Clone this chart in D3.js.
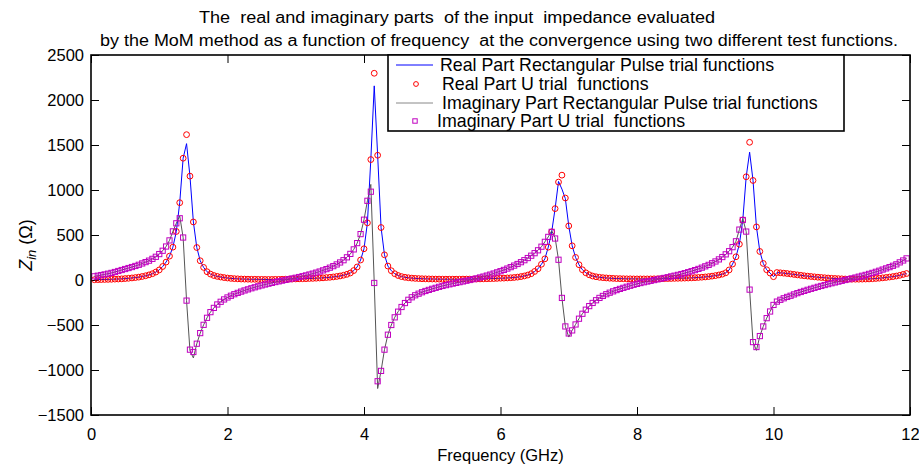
<!DOCTYPE html>
<html><head><meta charset="utf-8">
<script src="https://cdn.jsdelivr.net/npm/d3@7"></script>
<style>
body{margin:0;background:#fff}
text{font-family:"Liberation Sans",Arial,Helvetica,sans-serif;fill:#000;white-space:pre}
</style>
</head><body>
<svg id="chart" width="919" height="468"></svg>
<script>
// ---------- data ----------
const freqGHz = [
0.05,0.1,0.15,0.2,0.25,0.3,0.35,0.4,0.45,0.5,0.55,0.6,0.65,0.7,0.75,0.8,0.85,0.9,0.95,1,
1.05,1.1,1.15,1.2,1.25,1.3,1.35,1.4,1.45,1.5,1.55,1.6,1.65,1.7,1.75,1.8,1.85,1.9,1.95,2,
2.05,2.1,2.15,2.2,2.25,2.3,2.35,2.4,2.45,2.5,2.55,2.6,2.65,2.7,2.75,2.8,2.85,2.9,2.95,3,
3.05,3.1,3.15,3.2,3.25,3.3,3.35,3.4,3.45,3.5,3.55,3.6,3.65,3.7,3.75,3.8,3.85,3.9,3.95,4,
4.05,4.1,4.15,4.2,4.25,4.3,4.35,4.4,4.45,4.5,4.55,4.6,4.65,4.7,4.75,4.8,4.85,4.9,4.95,5,
5.05,5.1,5.15,5.2,5.25,5.3,5.35,5.4,5.45,5.5,5.55,5.6,5.65,5.7,5.75,5.8,5.85,5.9,5.95,6,
6.05,6.1,6.15,6.2,6.25,6.3,6.35,6.4,6.45,6.5,6.55,6.6,6.65,6.7,6.75,6.8,6.85,6.9,6.95,7,
7.05,7.1,7.15,7.2,7.25,7.3,7.35,7.4,7.45,7.5,7.55,7.6,7.65,7.7,7.75,7.8,7.85,7.9,7.95,8,
8.05,8.1,8.15,8.2,8.25,8.3,8.35,8.4,8.45,8.5,8.55,8.6,8.65,8.7,8.75,8.8,8.85,8.9,8.95,9,
9.05,9.1,9.15,9.2,9.25,9.3,9.35,9.4,9.45,9.5,9.55,9.6,9.65,9.7,9.75,9.8,9.85,9.9,9.95,10,
10.05,10.1,10.15,10.2,10.25,10.3,10.35,10.4,10.45,10.5,10.55,10.6,10.65,10.7,10.75,10.8,10.85,10.9,10.95,11,
11.05,11.1,11.15,11.2,11.25,11.3,11.35,11.4,11.45,11.5,11.55,11.6,11.65,11.7,11.75,11.8,11.85,11.9,11.95
];

// Real part, rectangular pulse trial functions (blue line)
const realRect = [
3,4,5,6,7,8,10,11,13,16,19,23,27,32,39,47,57,70,88,112,
150,199,265,365,539,859,1353,1515,1154,645,361,214,140,92,66,50,40,33,27,22,
18,15,13,11,10,9,8,8,7,7,6,6,6,7,7,8,9,10,11,12,
13,14,15,17,18,20,22,24,27,30,34,39,45,53,63,78,105,145,222,347,
635,1338,2157,1386,583,280,155,103,70,50,38,30,25,21,18,16,14,13,12,11,
10,10,9,9,9,9,9,9,10,10,10,11,11,12,13,14,15,16,18,20,
21,23,25,28,32,38,45,55,70,95,125,175,235,365,535,793,1095,1010,905,601,
380,251,170,114,80,58,44,36,30,26,23,20,18,16,15,14,13,13,12,12,
12,12,12,12,13,13,14,15,16,17,18,19,20,21,22,24,26,28,31,34,
38,43,49,56,65,80,112,177,258,398,667,1147,1420,1106,590,317,184,114,77,37,
83,80,76,72,67,62,57,52,47,43,39,35,31,28,25,22,19,17,15,13,
11,10,9,9,9,10,11,12,14,17,20,24,28,33,38,44,52,62,72
];

// Real part, U trial functions (red circles)
const realU = [
3,4,5,6,7,8,10,11,13,16,19,23,27,32,39,47,57,70,88,112,
150,199,265,365,539,859,1353,1615,1154,645,361,214,140,92,66,50,40,33,27,22,
18,15,13,11,10,9,8,8,7,7,6,6,6,7,7,8,9,10,11,12,
13,14,15,17,18,20,22,24,27,30,34,39,45,53,63,78,105,145,222,347,
635,1338,2297,1386,583,280,155,103,70,50,38,30,25,21,18,16,14,13,12,11,
10,10,9,9,9,9,9,9,10,10,10,11,11,12,13,14,15,16,18,20,
21,23,25,28,32,38,45,55,70,95,125,175,235,365,535,793,1088,1165,911,601,
380,251,170,114,80,58,44,36,30,26,23,20,18,16,15,14,13,13,12,12,
12,12,12,12,13,13,14,15,16,17,18,19,20,21,22,24,26,28,31,34,
38,43,49,56,65,80,112,177,258,398,667,1147,1530,1106,590,317,184,114,77,37,
83,80,76,72,67,62,57,52,47,43,39,35,31,28,25,22,19,17,15,13,
11,10,9,9,9,10,11,12,14,17,20,24,28,33,38,44,52,62,72
];

// Imaginary part, rectangular pulse trial functions (grey line)
const imagRect = [
41,48,55,62,70,79,89,100,111,122,133,144,156,169,184,199,215,235,258,288,
325,372,440,540,630,711,472,-229,-785,-866,-708,-590,-498,-420,-357,-310,-272,-242,-216,-194,
-175,-158,-143,-129,-116,-104,-92,-81,-70,-60,-50,-41,-32,-23,-15,-7,1,9,17,25,
33,42,51,61,71,82,94,107,121,137,154,173,195,220,252,290,340,410,510,670,
880,1062,-33,-1206,-1010,-774,-608,-500,-415,-352,-300,-256,-220,-192,-170,-152,-136,-122,-110,-98,
-87,-76,-66,-57,-48,-40,-32,-24,-16,-8,0,9,18,28,38,49,60,72,85,98,
112,127,143,160,178,198,220,244,270,298,330,370,424,479,546,470,225,-199,-516,-634,
-560,-494,-430,-375,-330,-290,-255,-225,-199,-177,-158,-141,-126,-112,-99,-87,-75,-64,-53,-43,
-34,-25,-17,-9,-1,7,15,23,31,40,48,57,66,76,87,98,110,123,137,152,
168,186,206,229,255,285,320,365,430,560,682,538,-107,-690,-782,-623,-516,-424,-350,-277,
-240,-220,-203,-188,-175,-160,-146,-133,-121,-109,-98,-87,-76,-66,-56,-46,-36,-27,-18,-9,
0,9,18,27,37,47,57,68,79,91,103,116,129,143,158,174,196,217,240
];

// Imaginary part, U trial functions (magenta squares)
const imagU = [
41,48,55,62,70,79,89,100,111,122,133,144,156,169,184,199,215,235,258,288,
325,372,440,540,630,686,472,-229,-774,-800,-708,-590,-498,-420,-357,-310,-272,-242,-216,-194,
-175,-158,-143,-129,-116,-104,-92,-81,-70,-60,-50,-41,-32,-23,-15,-7,1,9,17,25,
33,42,51,61,71,82,94,107,121,137,154,173,195,220,252,290,340,410,510,670,
880,981,-33,-1125,-1010,-774,-608,-500,-415,-352,-300,-256,-220,-192,-170,-152,-136,-122,-110,-98,
-87,-76,-66,-57,-48,-40,-32,-24,-16,-8,0,9,18,28,38,49,60,72,85,98,
112,127,143,160,178,198,220,244,270,298,330,370,424,479,535,461,225,-199,-516,-594,
-560,-494,-430,-375,-330,-290,-255,-225,-199,-177,-158,-141,-126,-112,-99,-87,-75,-64,-53,-43,
-34,-25,-17,-9,-1,7,15,23,31,40,48,57,66,76,87,98,110,123,137,152,
168,186,206,229,255,285,320,365,430,560,667,538,-107,-690,-745,-623,-516,-424,-350,-277,
-240,-220,-203,-188,-175,-160,-146,-133,-121,-109,-98,-87,-76,-66,-56,-46,-36,-27,-18,-9,
0,9,18,27,37,47,57,68,79,91,103,116,129,143,158,174,196,217,240
];

const xTicks = [0, 2, 4, 6, 8, 10, 12];
const yTicks = [-1500, -1000, -500, 0, 500, 1000, 1500, 2000, 2500];
const titleLines = [
  "The  real and imaginary parts  of the input  impedance evaluated",
  "by the MoM method as a function of frequency  at the convergence using two different test functions."
];
const xLabel = "Frequency (GHz)";
const legendLabels = [
  "Real Part Rectangular Pulse trial functions",
  "Real Part U trial  functions",
  "Imaginary Part Rectangular Pulse trial functions",
  "Imaginary Part U trial  functions"
];

// ---------- drawing ----------
const svg = d3.select("#chart");
const L = 91, R = 910, T = 55, B = 415;
const x = d3.scaleLinear().domain([0, 12]).range([L, R]);
const y = d3.scaleLinear().domain([-1500, 2500]).range([B, T]);

const colBlue = "#0000ff", colRed = "#ff0000", colGrey = "#555555", colMag = "#c000c0";

// title
svg.append("text").attr("x", 199).attr("y", 23).attr("font-size", 16).attr("xml:space", "preserve")
  .attr("textLength", 516).attr("lengthAdjust", "spacingAndGlyphs").text(titleLines[0]);
svg.append("text").attr("x", 100).attr("y", 46).attr("font-size", 16).attr("xml:space", "preserve")
  .attr("textLength", 798).attr("lengthAdjust", "spacingAndGlyphs").text(titleLines[1]);

// axes
const gx = svg.append("g").attr("transform", `translate(0,${B})`)
  .call(d3.axisBottom(x).tickValues(xTicks).tickFormat(d3.format("d"))
    .tickSizeInner(-8).tickSizeOuter(0).tickPadding(13));
const gxt = svg.append("g").attr("transform", `translate(0,${T})`)
  .call(d3.axisTop(x).tickValues(xTicks).tickFormat("").tickSizeInner(-8).tickSizeOuter(0));
const gy = svg.append("g").attr("transform", `translate(${L},0)`)
  .call(d3.axisLeft(y).tickValues(yTicks).tickFormat(d => d < 0 ? "\u2212" + Math.abs(d) : d)
    .tickSizeInner(-8).tickSizeOuter(0).tickPadding(7));
const gyr = svg.append("g").attr("transform", `translate(${R},0)`)
  .call(d3.axisRight(y).tickValues(yTicks).tickFormat("").tickSizeInner(-8).tickSizeOuter(0));
[gx, gxt, gy, gyr].forEach(g => {
  g.select(".domain").remove();
  g.selectAll(".tick line").attr("stroke", "#000").attr("stroke-width", 1);
  g.selectAll(".tick text").attr("font-size", 16.5)
    .attr("font-family", "Liberation Sans, Arial, Helvetica, sans-serif").attr("fill", "#000");
});

// data lines and markers
const lineGen = d3.line().x((d, i) => x(freqGHz[i])).y(d => y(d));
const plot = svg.append("g");

plot.append("path").datum(realRect).attr("d", lineGen)
  .attr("fill", "none").attr("stroke", colBlue).attr("stroke-width", 1);

plot.append("g").selectAll("circle").data(realU).join("circle")
  .attr("cx", (d, i) => x(freqGHz[i])).attr("cy", d => y(d)).attr("r", 2.9)
  .attr("fill", "none").attr("stroke", colRed).attr("stroke-width", 1);

plot.append("path").datum(imagRect).attr("d", lineGen)
  .attr("fill", "none").attr("stroke", colGrey).attr("stroke-width", 1);

const sq = 5.2;
plot.append("g").selectAll("rect").data(imagU).join("rect")
  .attr("x", (d, i) => x(freqGHz[i]) - sq / 2).attr("y", d => y(d) - sq / 2)
  .attr("width", sq).attr("height", sq)
  .attr("fill", "none").attr("stroke", colMag).attr("stroke-width", 1);

// frame
svg.append("rect").attr("x", L).attr("y", T).attr("width", R - L).attr("height", B - T)
  .attr("fill", "none").attr("stroke", "#000").attr("stroke-width", 1.6);

// axis labels
svg.append("text").attr("x", (L + R) / 2).attr("y", 461).attr("text-anchor", "middle")
  .attr("font-size", 16.5).text(xLabel);
const yl = svg.append("text").attr("transform", "translate(32,245) rotate(-90)")
  .attr("text-anchor", "middle").attr("font-size", 18);
yl.append("tspan").attr("font-style", "italic").text("Z");
yl.append("tspan").attr("font-style", "italic").attr("font-size", 13).attr("dy", 4).text("in");
yl.append("tspan").attr("dy", -4).text(" (\u03A9)");

// legend
const lg = svg.append("g");
lg.append("rect").attr("x", 388).attr("y", 55).attr("width", 456).attr("height", 76)
  .attr("fill", "#fff").attr("stroke", "#000").attr("stroke-width", 1.6);
const rowsY = [65, 84, 103, 121];
const textX = [440, 442, 442, 437];
lg.append("line").attr("x1", 396).attr("x2", 433).attr("y1", rowsY[0]).attr("y2", rowsY[0])
  .attr("stroke", colBlue).attr("stroke-width", 1);
lg.append("circle").attr("cx", 416).attr("cy", rowsY[1]).attr("r", 2.4)
  .attr("fill", "none").attr("stroke", colRed).attr("stroke-width", 1);
lg.append("line").attr("x1", 396).attr("x2", 433).attr("y1", rowsY[2]).attr("y2", rowsY[2])
  .attr("stroke", "#888").attr("stroke-width", 1);
lg.append("rect").attr("x", 415 - 2.2).attr("y", rowsY[3] - 2.2).attr("width", 4.4).attr("height", 4.4)
  .attr("fill", "none").attr("stroke", colMag).attr("stroke-width", 1);
legendLabels.forEach((t, k) => {
  lg.append("text").attr("x", textX[k]).attr("y", rowsY[k] + 6).attr("font-size", 17.8)
    .attr("xml:space", "preserve").text(t);
});
</script>
</body></html>
